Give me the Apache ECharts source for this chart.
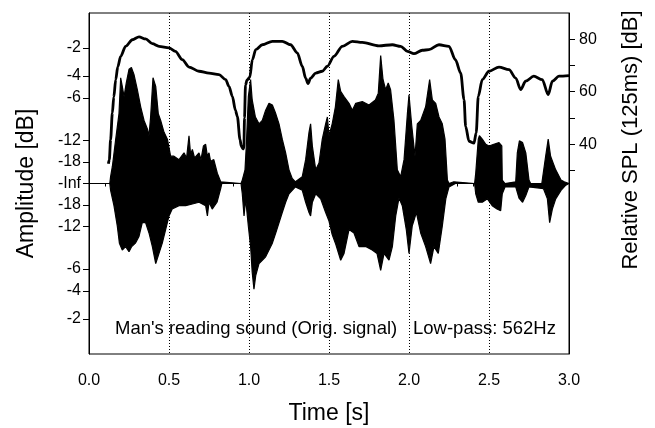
<!DOCTYPE html>
<html><head><meta charset="utf-8">
<script src="https://cdn.jsdelivr.net/npm/echarts@6/dist/echarts.min.js"></script>
<style>html,body{margin:0;padding:0;background:#fff}#c{width:655px;height:428px}</style>
</head><body><div id="c"></div>
<script>
// ---- tick definitions ----
const timeTicks = [0, 0.5, 1.0, 1.5, 2.0, 2.5, 3.0];
const ampTickDb = [-2, -4, -6, -12, -18];          // symmetric around -Inf (silence)
const splTickValues = [30, 40, 50, 60, 70, 80];
const splLabelValues = [40, 60, 80];

// ---- waveform envelope (linear amplitude, full scale = 1) ----
const upperT = [0,0.13,0.135,0.146,0.167,0.1875,0.198,0.208,0.219,0.233,0.25,0.265,0.281,0.302,0.323,0.344,0.365,0.375,0.385,0.40,0.417,0.433,0.448,0.469,0.49,0.51,0.531,0.5625,0.594,0.61,0.625,0.635,0.646,0.66,0.6875,0.70,0.715,0.729,0.74,0.75,0.76,0.78,0.802,0.823,0.83,0.95,0.958,0.975,0.983,0.996,1.01,1.02,1.04,1.0625,1.083,1.104,1.125,1.146,1.167,1.1875,1.208,1.229,1.25,1.27,1.29,1.302,1.333,1.354,1.375,1.385,1.396,1.417,1.4375,1.458,1.479,1.49,1.5,1.52,1.54,1.558,1.573,1.594,1.625,1.646,1.667,1.708,1.75,1.79,1.808,1.823,1.8375,1.854,1.87,1.885,1.906,1.927,1.948,1.969,1.99,2.0,2.017,2.0375,2.052,2.073,2.104,2.129,2.146,2.167,2.1875,2.208,2.225,2.24,2.25,2.26,2.28,2.29,2.41,2.417,2.433,2.44,2.458,2.48,2.5,2.53,2.5625,2.58,2.583,2.6,2.667,2.677,2.69,2.71,2.73,2.75,2.76,2.83,2.833,2.854,2.87,2.885,2.917,2.95,2.97,3.0];
const upperA = [0,0,0.04,0.10,0.26,0.41,0.62,0.57,0.51,0.59,0.67,0.68,0.64,0.55,0.45,0.37,0.32,0.28,0.39,0.62,0.57,0.41,0.37,0.30,0.26,0.16,0.16,0.14,0.18,0.15,0.28,0.17,0.20,0.15,0.18,0.14,0.22,0.23,0.16,0.18,0.13,0.14,0.06,0.01,0,0,0.02,0.08,0.22,0.51,0.61,0.49,0.39,0.35,0.37,0.43,0.47,0.46,0.41,0.35,0.26,0.18,0.08,0.03,0.01,0.02,0.04,0.14,0.30,0.35,0.22,0.08,0.12,0.26,0.35,0.39,0.28,0.35,0.45,0.61,0.54,0.51,0.47,0.43,0.47,0.48,0.46,0.49,0.53,0.75,0.61,0.55,0.59,0.55,0.37,0.08,0.04,0.14,0.41,0.52,0.34,0.16,0.35,0.37,0.45,0.61,0.49,0.47,0.39,0.35,0.26,0.02,0,0.01,0.01,0,0,0.06,0.26,0.28,0.26,0.23,0.22,0.23,0.24,0.22,0.02,0,0.01,0.18,0.25,0.24,0.18,0.02,0,0,0.01,0.16,0.26,0.16,0.08,0.02,0.01,0];
const lowerT = [0,0.13,0.135,0.156,0.177,0.19,0.208,0.229,0.25,0.267,0.29,0.3125,0.333,0.354,0.375,0.396,0.417,0.4375,0.458,0.479,0.5,0.52,0.5625,0.604,0.646,0.6875,0.729,0.74,0.75,0.77,0.80,0.823,0.83,0.95,0.958,0.969,0.979,0.996,1.01,1.02,1.031,1.042,1.0625,1.083,1.104,1.125,1.146,1.167,1.1875,1.208,1.229,1.25,1.29,1.333,1.354,1.375,1.385,1.396,1.417,1.448,1.479,1.5,1.52,1.54,1.573,1.594,1.625,1.656,1.6875,1.729,1.77,1.8,1.823,1.844,1.875,1.896,1.917,1.9375,1.958,1.983,2.0,2.02,2.046,2.073,2.104,2.135,2.156,2.183,2.208,2.23,2.25,2.26,2.29,2.41,2.417,2.433,2.458,2.49,2.52,2.55,2.573,2.583,2.6,2.667,2.6875,2.71,2.73,2.75,2.84,2.865,2.879,2.896,2.917,2.95,2.98,3.0];
const lowerA = [0,0,-0.04,-0.13,-0.25,-0.35,-0.39,-0.37,-0.40,-0.37,-0.35,-0.31,-0.23,-0.23,-0.29,-0.37,-0.47,-0.41,-0.35,-0.27,-0.19,-0.15,-0.13,-0.13,-0.12,-0.11,-0.13,-0.19,-0.11,-0.15,-0.11,-0.03,0,0,-0.06,-0.19,-0.09,-0.25,-0.37,-0.52,-0.62,-0.54,-0.47,-0.45,-0.43,-0.39,-0.35,-0.29,-0.23,-0.17,-0.11,-0.06,-0.02,-0.04,-0.11,-0.17,-0.19,-0.11,-0.06,-0.09,-0.17,-0.22,-0.30,-0.35,-0.45,-0.41,-0.27,-0.29,-0.37,-0.37,-0.39,-0.41,-0.51,-0.41,-0.45,-0.37,-0.19,-0.085,-0.13,-0.27,-0.41,-0.25,-0.17,-0.29,-0.37,-0.47,-0.37,-0.41,-0.25,-0.09,-0.02,-0.01,0,0,-0.06,-0.11,-0.11,-0.09,-0.13,-0.15,-0.16,-0.06,-0.02,-0.02,-0.085,-0.11,-0.07,-0.02,-0.03,-0.09,-0.23,-0.15,-0.09,-0.04,-0.01,0];

// ---- relative SPL (125 ms) curve, dB ----
const splT = [0.121,0.127,0.135,0.146,0.155,0.167,0.18,0.198,0.229,0.271,0.3125,0.354,0.396,0.4375,0.5,0.54,0.583,0.625,0.6875,0.75,0.8125,0.854,0.875,0.896,0.915,0.927,0.944,0.952,0.962,0.968,0.972,0.978,0.988,1.005,1.021,1.042,1.083,1.146,1.208,1.26,1.302,1.333,1.354,1.369,1.385,1.417,1.458,1.49,1.531,1.583,1.646,1.708,1.8125,1.896,1.948,1.99,2.031,2.083,2.125,2.1875,2.25,2.29,2.323,2.344,2.354,2.375,2.406,2.42,2.433,2.458,2.5,2.5625,2.625,2.667,2.698,2.729,2.78,2.833,2.87,2.896,2.9375,3.0];
const splV = [32.5,34,41.7,51.9,58,64.6,69.5,73.5,77.3,79.8,80.9,80.1,78.3,77.3,76.7,75.4,72.2,69.4,67.8,67.1,66.5,64.6,62,58.2,53,50.6,41.7,39.2,38.2,38.5,50,62.5,64.5,65.5,72.2,76,77.9,79.2,79.2,77.9,74.8,69.7,65.2,63.1,65.2,67.1,67.8,69.7,73.5,77.3,79.2,78.8,77.5,77.9,77.3,75.4,74.5,75.8,76,77.9,77.3,72.2,67.1,57,46.8,41.1,40.4,44.3,58.2,64.6,67.8,69.4,68.4,65.2,60.8,64,65.9,64.6,58.9,64,65.9,66.1];

const zip = (a, b) => a.map((v, i) => [v, b[i]]);
const ampTickPos = [];
const ampTickLab = {};
ampTickDb.forEach(d => {
  const a = Math.pow(10, d / 20);
  ampTickPos.push(a, -a);
  ampTickLab[a.toFixed(5)] = String(d);
  ampTickLab[(-a).toFixed(5)] = String(d);
});
ampTickPos.push(0);
ampTickLab[(0).toFixed(5)] = '-Inf';
ampTickPos.sort((x, y) => x - y);

const FONT = "'Liberation Sans', Arial, Helvetica, sans-serif";
const chart = echarts.init(document.getElementById('c'), null, { renderer: 'canvas' });
chart.setOption({
  animation: false,
  backgroundColor: '#fff',
  textStyle: { fontFamily: FONT, color: '#000' },
  grid: { left: 89, right: 86, top: 13, bottom: 74, show: true, borderColor: '#000', borderWidth: 1,
    backgroundColor: 'transparent', containLabel: false, outerBoundsMode: 'none' },
  graphic: [
    { type: 'text', left: 115, top: 319, style: { text: "Man's reading sound (Orig. signal)", font: "18.5px " + FONT, fill: '#000' }, z: 10 },
    { type: 'text', left: 413, top: 319, style: { text: 'Low-pass: 562Hz', font: "18.5px " + FONT, fill: '#000' }, z: 10 },
    { type: 'text', x: 631, y: 140, rotation: Math.PI / 2,
      style: { text: 'Relative SPL (125ms) [dB]', font: "22px " + FONT, fill: '#000', align: 'center', verticalAlign: 'middle' }, z: 10 }
  ],
  xAxis: {
    type: 'value', min: 0, max: 3, interval: 0.5,
    name: 'Time [s]', nameLocation: 'middle', nameGap: 48,
    nameTextStyle: { fontSize: 23, color: '#000', fontFamily: FONT },
    axisLine: { lineStyle: { color: '#000', width: 1 } },
    axisTick: { show: true, inside: false, length: 6, lineStyle: { color: '#000' } },
    minorTick: { show: true, splitNumber: 5, length: 3, lineStyle: { color: '#000' } },
    axisLabel: { fontSize: 16, color: '#000', margin: 19, formatter: v => v.toFixed(1) },
    splitLine: { show: true, lineStyle: { color: '#000', type: [1, 2], width: 1 } }
  },
  yAxis: [
    {
      type: 'value', min: -1, max: 1, position: 'left',
      name: 'Amplitude [dB]', nameLocation: 'middle', nameGap: 51, nameRotate: 90,
      nameTextStyle: { fontSize: 23, color: '#000', fontFamily: FONT },
      axisLine: { show: true, lineStyle: { color: '#000', width: 1 } },
      axisTick: { show: true, length: 6, customValues: ampTickPos, lineStyle: { color: '#000' } },
      axisLabel: { fontSize: 16, color: '#000', margin: 8, customValues: ampTickPos,
        formatter: v => ampTickLab[Number(v).toFixed(5)] || '' },
      splitLine: { show: false }
    },
    {
      type: 'value', min: -40, max: 90, interval: 10, position: 'right',
      axisLine: { show: true, lineStyle: { color: '#000', width: 1 } },
      axisTick: { show: true, length: 6, customValues: splTickValues, lineStyle: { color: '#000' } },
      axisLabel: { fontSize: 16, color: '#000', margin: 10, customValues: splLabelValues },
      splitLine: { show: false }
    }
  ],
  series: [
    { type: 'line', yAxisIndex: 0, data: zip(upperT, upperA), symbol: 'none', silent: true,
      lineStyle: { color: '#000', width: 1.2 }, areaStyle: { color: '#000', opacity: 1 }, z: 2 },
    { type: 'line', yAxisIndex: 0, data: zip(lowerT, lowerA), symbol: 'none', silent: true,
      lineStyle: { color: '#000', width: 1.2 }, areaStyle: { color: '#000', opacity: 1 }, z: 2 },
    { type: 'line', yAxisIndex: 1, data: zip(splT, splV), symbol: 'none', silent: true,
      smooth: 0.3, smoothMonotone: 'x',
      lineStyle: { color: '#000', width: 2.8 }, z: 3 }
  ]
});
</script>
</body></html>
